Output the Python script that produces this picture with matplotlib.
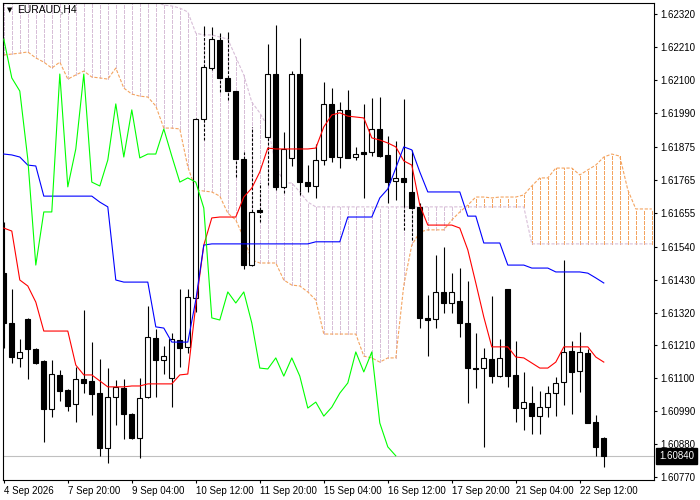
import matplotlib
matplotlib.use("Agg")
import matplotlib.pyplot as plt
import matplotlib.transforms as mtransforms
from matplotlib.patches import Rectangle
from matplotlib.collections import LineCollection

# Chart data (EURAUD H4)
SYMBOL = "EURAUD,H4"

opens = [1.61452, 1.61285, 1.61168, 1.61298, 1.61198, 1.61158, 1.60997, 1.61111, 1.61060, 1.61014,
         1.61097, 1.61091, 1.61050, 1.60866, 1.61037, 1.61067, 1.60980, 1.60900, 1.61037, 1.61235,
         1.61161, 1.61101, 1.61228, 1.61205, 1.61369, 1.61968, 1.62139, 1.62233, 1.62106, 1.62062,
         1.61834, 1.61479, 1.61664, 1.61908, 1.62119, 1.61741, 1.61838, 1.62119, 1.61757, 1.61744,
         1.61831, 1.62019, 1.61841, 1.61999, 1.61841, 1.61858, 1.61858, 1.61935, 1.61848, 1.61761,
         1.61771, 1.61724, 1.61674, 1.61302, 1.61298, 1.61389, 1.61352, 1.61359, 1.61285, 1.61134,
         1.61134, 1.61164, 1.61107, 1.61399, 1.61111, 1.61000, 1.61017, 1.60973, 1.61003, 1.61050,
         1.61087, 1.61191, 1.61124, 1.61184, 1.60953, 1.60900]
highs = [1.61623, 1.61399, 1.61231, 1.61302, 1.61201, 1.61161, 1.61161, 1.61128, 1.61064, 1.61138,
         1.61329, 1.61221, 1.61164, 1.61134, 1.61094, 1.61097, 1.60984, 1.61101, 1.61342, 1.61265,
         1.61208, 1.61251, 1.61399, 1.61399, 1.61972, 1.62280, 1.62277, 1.62256, 1.62260, 1.62062,
         1.61858, 1.61942, 1.61754, 1.62220, 1.62283, 1.61925, 1.62129, 1.62240, 1.61814, 1.61885,
         1.62092, 1.62072, 1.62025, 1.62066, 1.61875, 1.62019, 1.62039, 1.62042, 1.61911, 1.61895,
         1.62035, 1.61865, 1.61687, 1.61379, 1.61513, 1.61540, 1.61452, 1.61469, 1.61426, 1.61251,
         1.61201, 1.61376, 1.61231, 1.61399, 1.61224, 1.61121, 1.61074, 1.61057, 1.61074, 1.61104,
         1.61496, 1.61224, 1.61255, 1.61198, 1.60977, 1.60903]
lows = [1.61201, 1.61151, 1.61138, 1.61097, 1.61148, 1.60886, 1.60970, 1.61024, 1.60990, 1.60953,
        1.61050, 1.60977, 1.60839, 1.60816, 1.60943, 1.60896, 1.60896, 1.60833, 1.61034, 1.61037,
        1.61114, 1.61004, 1.61138, 1.61184, 1.61322, 1.61898, 1.62132, 1.62059, 1.62032, 1.61774,
        1.61466, 1.61476, 1.61623, 1.61747, 1.61731, 1.61721, 1.61811, 1.61714, 1.61724, 1.61704,
        1.61814, 1.61824, 1.61804, 1.61838, 1.61831, 1.61704, 1.61844, 1.61841, 1.61687, 1.61697,
        1.61597, 1.61563, 1.61268, 1.61174, 1.61268, 1.61318, 1.61318, 1.61238, 1.61017, 1.61067,
        1.60870, 1.61084, 1.61104, 1.61071, 1.60953, 1.60926, 1.60913, 1.60913, 1.60970, 1.60973,
        1.61010, 1.60980, 1.61054, 1.60950, 1.60839, 1.60803]
closes = [1.61285, 1.61171, 1.61188, 1.61198, 1.61151, 1.60997, 1.61114, 1.61057, 1.61007, 1.61097,
          1.61084, 1.61047, 1.60866, 1.61037, 1.61071, 1.60980, 1.60900, 1.61034, 1.61238, 1.61161,
          1.61174, 1.61231, 1.61201, 1.61372, 1.61968, 1.62143, 1.62236, 1.62106, 1.62062, 1.61834,
          1.61479, 1.61657, 1.61657, 1.62119, 1.61741, 1.61868, 1.62119, 1.61757, 1.61744, 1.61831,
          1.62019, 1.61841, 1.61999, 1.61838, 1.61851, 1.61851, 1.61935, 1.61844, 1.61757, 1.61771,
          1.61757, 1.61670, 1.61302, 1.61295, 1.61389, 1.61352, 1.61389, 1.61285, 1.61134, 1.61131,
          1.61168, 1.61107, 1.61168, 1.61107, 1.61000, 1.61020, 1.60973, 1.61003, 1.61050, 1.61084,
          1.61188, 1.61121, 1.61188, 1.60950, 1.60870, 1.60840]

# Ichimoku lines
tenkan = [1.61603, 1.61593, 1.61429, 1.61409, 1.61355, 1.61258, 1.61258, 1.61258, 1.61258, 1.61144,
          1.61111, 1.61111, 1.61091, 1.61071, 1.61071, 1.61071, 1.61074, 1.61074, 1.61081, 1.61081,
          1.61081, 1.61081, 1.61111, 1.61114, 1.61345, 1.61546, 1.61637, 1.61640, 1.61640, 1.61640,
          1.61707, 1.61737, 1.61791, 1.61871, 1.61868, 1.61868, 1.61868, 1.61868, 1.61868, 1.61871,
          1.61942, 1.61982, 1.61989, 1.61978, 1.61975, 1.61972, 1.61905, 1.61898, 1.61888, 1.61875,
          1.61828, 1.61814, 1.61680, 1.61613, 1.61613, 1.61613, 1.61613, 1.61603, 1.61530, 1.61419,
          1.61305, 1.61205, 1.61205, 1.61205, 1.61171, 1.61168, 1.61151, 1.61134, 1.61134, 1.61154,
          1.61205, 1.61205, 1.61205, 1.61205, 1.61171, 1.61154]
kijun = [1.61851, 1.61848, 1.61841, 1.61814, 1.61811, 1.61710, 1.61710, 1.61710, 1.61710, 1.61710,
         1.61710, 1.61710, 1.61690, 1.61674, 1.61429, 1.61422, 1.61422, 1.61422, 1.61422, 1.61272,
         1.61268, 1.61221, 1.61221, 1.61221, 1.61362, 1.61546, 1.61550, 1.61550, 1.61550, 1.61550,
         1.61550, 1.61550, 1.61550, 1.61550, 1.61550, 1.61550, 1.61550, 1.61550, 1.61550, 1.61557,
         1.61557, 1.61557, 1.61557, 1.61640, 1.61640, 1.61640, 1.61640, 1.61704, 1.61734, 1.61804,
         1.61875, 1.61865, 1.61791, 1.61724, 1.61724, 1.61724, 1.61724, 1.61724, 1.61643, 1.61643,
         1.61553, 1.61553, 1.61553, 1.61479, 1.61479, 1.61479, 1.61469, 1.61469, 1.61469, 1.61456,
         1.61456, 1.61456, 1.61456, 1.61452, 1.61436, 1.61419]
span_a = [1.62183, 1.62186, 1.62189, 1.62193, 1.62173, 1.62159, 1.62139, 1.62159, 1.62102, 1.62116,
          1.62129, 1.62109, 1.62106, 1.62102, 1.62139, 1.62072, 1.62052, 1.62045, 1.62042, 1.62012,
          1.61938, 1.61938, 1.61935, 1.61808, 1.61731, 1.61727, 1.61724, 1.61710, 1.61653, 1.61630,
          1.61570, 1.61496, 1.61486, 1.61486, 1.61486, 1.61429, 1.61412, 1.61409, 1.61389, 1.61362,
          1.61248, 1.61248, 1.61248, 1.61248, 1.61248, 1.61174, 1.61168, 1.61154, 1.61168, 1.61168,
          1.61412, 1.61546, 1.61590, 1.61597, 1.61597, 1.61597, 1.61630, 1.61657, 1.61680, 1.61707,
          1.61707, 1.61704, 1.61707, 1.61707, 1.61707, 1.61714, 1.61744, 1.61771, 1.61771, 1.61804,
          1.61804, 1.61804, 1.61781, 1.61798, 1.61814, 1.61841, 1.61851, 1.61844, 1.61731, 1.61667,
          1.61667, 1.61667]
span_b = [1.62400, 1.62400, 1.62400, 1.62400, 1.62400, 1.62400, 1.62400, 1.62400, 1.62400, 1.62400,
          1.62400, 1.62400, 1.62400, 1.62400, 1.62400, 1.62400, 1.62400, 1.62400, 1.62380, 1.62362,
          1.62350, 1.62347, 1.62340, 1.62327, 1.62256, 1.62250, 1.62250, 1.62243, 1.62236, 1.62176,
          1.62116, 1.62025, 1.61989, 1.61942, 1.61814, 1.61754, 1.61754, 1.61724, 1.61690, 1.61674,
          1.61674, 1.61674, 1.61674, 1.61674, 1.61674, 1.61674, 1.61674, 1.61674, 1.61674, 1.61674,
          1.61674, 1.61674, 1.61674, 1.61674, 1.61674, 1.61674, 1.61674, 1.61674, 1.61674, 1.61674,
          1.61674, 1.61674, 1.61674, 1.61674, 1.61674, 1.61674, 1.61550, 1.61550, 1.61550, 1.61550,
          1.61550, 1.61550, 1.61550, 1.61550, 1.61550, 1.61550, 1.61550, 1.61550, 1.61550, 1.61550,
          1.61550, 1.61550]
CHIKOU_SHIFT = 26

date_labels = ["4 Sep 2026", "7 Sep 20:00", "9 Sep 04:00", "10 Sep 12:00", "11 Sep 20:00",
               "15 Sep 04:00", "16 Sep 12:00", "17 Sep 20:00", "21 Sep 04:00", "22 Sep 12:00"]
price_ticks = [1.62320, 1.62210, 1.62100, 1.61990, 1.61875, 1.61765, 1.61655, 1.61540,
               1.61430, 1.61320, 1.61210, 1.61100, 1.60990, 1.60880, 1.60770]
last_price = 1.60840

# colours (MT4 defaults)
C_TENKAN = "#ff0000"
C_KIJUN = "#0000ff"
C_CHIKOU = "#00ff00"
C_SPAN_A = "#f4a460"
C_SPAN_B = "#d8bfd8"
DASH = (0, (2.9, 1.5))
FONT = "Liberation Sans"
FS = 7


def split_segment(a, b, lo, hi):
    """Split [a, b] into parts outside and inside [lo, hi]."""
    solid, dashed = [], []
    if b <= a:
        return solid, dashed
    if a < lo:
        solid.append((a, min(b, lo)))
    if b > hi:
        solid.append((max(a, hi), b))
    s, e = max(a, lo), min(b, hi)
    if e > s:
        dashed.append((s, e))
    return solid, dashed


fig = plt.figure(figsize=(7, 5), dpi=100)
ax = fig.add_axes([3 / 700, 20 / 500, 651 / 700, 477 / 500])
ax.set_xlim(-0.1, -0.1 + 651 / 8)
ax.set_ylim(1.60759, 1.62357)

n = len(closes)
n_cloud = len(span_a)

# cloud hatch: vertical dashed lines between span A and span B
for i in range(n_cloud):
    a, b = span_a[i], span_b[i]
    col = C_SPAN_A if a > b else C_SPAN_B
    ax.vlines(i, min(a, b), max(a, b), colors=col, linewidth=0.75, linestyles=DASH,
              antialiased=False, zorder=1)

ax.plot(range(n_cloud), span_a, color=C_SPAN_A, linewidth=0.8, linestyle=DASH, zorder=2)
ax.plot(range(n_cloud), span_b, color=C_SPAN_B, linewidth=0.8, linestyle=DASH, zorder=2)

# last price line
ax.axhline(last_price, color="#c0c0c0", linewidth=0.8, zorder=0.5)

# candles
solid_segs, dashed_segs = [], []
for i in range(n):
    o, h, l, c = opens[i], highs[i], lows[i], closes[i]
    top, bot = max(o, c), min(o, c)
    lo_c, hi_c = min(span_a[i], span_b[i]), max(span_a[i], span_b[i])
    for a, b in ((l, bot), (top, h)):
        s, d = split_segment(a, b, lo_c, hi_c)
        solid_segs += [[(i, p), (i, q)] for p, q in s]
        dashed_segs += [[(i, p), (i, q)] for p, q in d]
    face = "white" if c >= o else "black"
    ax.add_patch(Rectangle((i - 0.3, bot), 0.6, max(top - bot, 0.00002),
                           facecolor=face, edgecolor="black", linewidth=0.8, zorder=4))

ax.add_collection(LineCollection(solid_segs, colors="black", linewidths=0.8, zorder=3))
ax.add_collection(LineCollection(dashed_segs, colors="black", linewidths=0.8,
                                 linestyles=[(0, (2.5, 1.5))], zorder=3))

# tenkan, kijun, chikou
ax.plot(range(n), tenkan, color=C_TENKAN, linewidth=0.8, zorder=5)
ax.plot(range(n), kijun, color=C_KIJUN, linewidth=0.8, zorder=5)
chikou = closes[CHIKOU_SHIFT:]
ax.plot(range(len(chikou)), chikou, color=C_CHIKOU, linewidth=0.8, zorder=5)

# axes styling
for sp in ax.spines.values():
    sp.set_color("black")
    sp.set_linewidth(0.8)

ax.yaxis.tick_right()
ax.set_yticks(price_ticks)
ax.set_yticklabels([f"{p:.5f}" for p in price_ticks], fontsize=FS, family=FONT)
ax.tick_params(axis="y", direction="out", length=2.5, width=0.8, pad=2)

ax.set_xticks(range(0, 8 * len(date_labels), 8))
ax.set_xticklabels(date_labels, fontsize=FS, family=FONT)
for lbl in ax.get_xticklabels():
    lbl.set_horizontalalignment("left")
ax.tick_params(axis="x", direction="out", length=2.5, width=0.8, pad=1.5)

# last price box on the price scale
trans = mtransforms.blended_transform_factory(ax.transAxes, ax.transData) + \
    mtransforms.ScaledTranslation(5 / 100, 0, fig.dpi_scale_trans)
ax.text(1.0, last_price, f"{last_price:.5f}", transform=trans, fontsize=FS, family=FONT,
        color="white", va="center", ha="left", clip_on=False, zorder=10,
        bbox=dict(boxstyle="square,pad=0.3", facecolor="black", edgecolor="black"))

# symbol title
fig.text(7 / 700, 1 - 10 / 500, "\u25bc", fontsize=5, color="black", va="center", ha="left")
fig.text(17 / 700, 1 - 10 / 500, SYMBOL, fontsize=FS + 0.5, family=FONT, color="black",
         va="center", ha="left")

fig.savefig("out.png", dpi=100)
